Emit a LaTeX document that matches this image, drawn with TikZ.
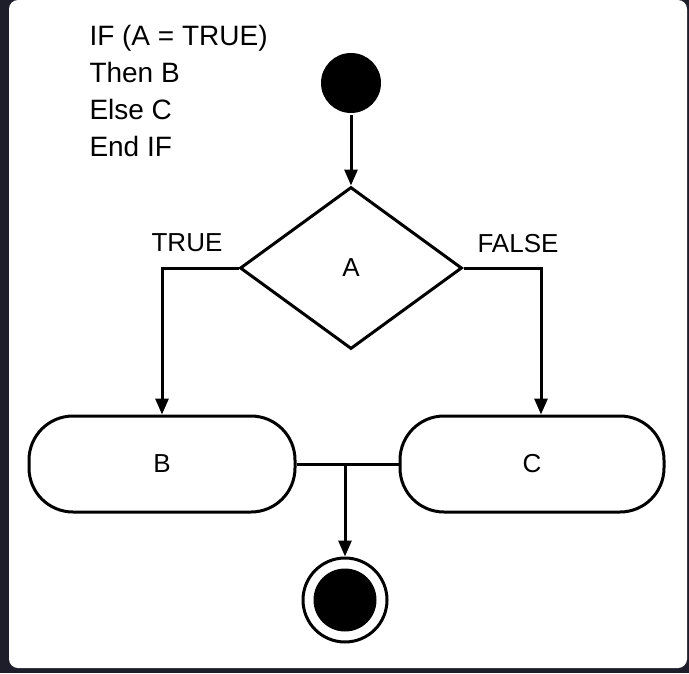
\documentclass[tikz,border=0pt]{standalone}
\usepackage{fontspec}
\setmainfont{Liberation Sans}
\usetikzlibrary{shapes.geometric,arrows.meta}
\definecolor{framedark}{RGB}{30,30,42}

\begin{document}
\begin{tikzpicture}[x=1pt,y=-1pt,line width=3pt,
  flow/.style={-{Triangle[length=16pt,width=13pt]}},
  lbl/.style={font=\fontsize{26}{30}\selectfont},
  pill/.style={draw,rounded corners=44pt,minimum width=266pt,minimum height=96pt,inner sep=0,lbl}]
  \fill[framedark] (0,0) rectangle (689,673);
  \fill[white,rounded corners=9pt] (9,0) rectangle (687,668);
  \node[anchor=north west,align=left,inner sep=0,font=\fontsize{28}{37}\selectfont] (code) at (88,24) {IF (A = TRUE)\\Then B\\Else C\\End IF};
  \node[circle,fill=black,minimum size=60pt,inner sep=0] (start) at (351,83){};
  \node[diamond,draw,aspect=1.37,minimum width=222pt,minimum height=162pt,inner sep=0,lbl] (A) at (351,268){A};
  \node[pill] (B) at (162,464){B};
  \node[pill,minimum width=264pt] (C) at (532,464){C};
  \node[circle,draw,minimum size=84pt,inner sep=0] (stop) at (345,600){};
  \node[circle,fill=black,minimum size=63pt,inner sep=0] (stopdot) at (345,600){};
  \node[lbl] (truelbl) at (187,243){TRUE};
  \node[lbl] (falselbl) at (518,244){FALSE};
  \coordinate (join) at (345,464);
  \draw[flow] (start)--(A);
  \draw[flow] (A.west)-|(B.north);
  \draw[flow] (A.east)-|([xshift=9pt]C.north);
  \draw (B.east)--(C.west);
  \draw[flow] (join)--(stop);
\end{tikzpicture}
\end{document}
